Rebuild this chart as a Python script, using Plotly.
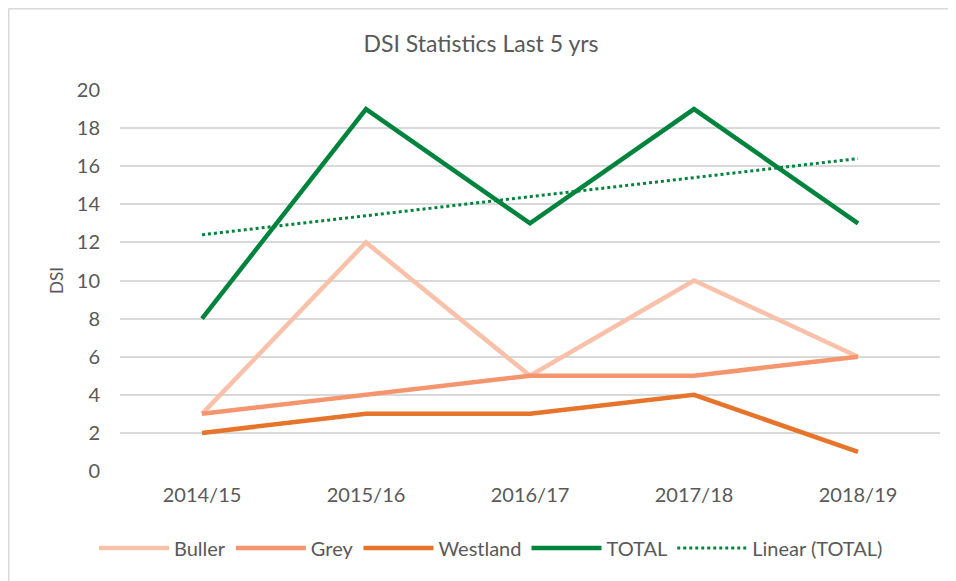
import plotly.graph_objects as go

categories = ["2014/15", "2015/16", "2016/17", "2017/18", "2018/19"]
buller = [3, 12, 5, 10, 6]
grey = [3, 4, 5, 5, 6]
westland = [2, 3, 3, 4, 1]
total = [8, 19, 13, 19, 13]
linear_total = [12.4, 13.4, 14.4, 15.4, 16.4]
y_ticks = [0, 2, 4, 6, 8, 10, 12, 14, 16, 18, 20]

FONT = "Lato"
TXT = "#595959"

fig = go.Figure()
series = [
    ("Buller", buller, "#F9C1AA", "solid", 4.5),
    ("Grey", grey, "#F5956D", "solid", 4.5),
    ("Westland", westland, "#E6742A", "solid", 4.5),
    ("TOTAL", total, "#00843D", "solid", 4.5),
    ("Linear (TOTAL)", linear_total, "#00843D", "dot", 3),
]
for name, vals, col, dash, w in series:
    fig.add_trace(go.Scatter(
        x=categories, y=vals, name=name, mode="lines",
        line=dict(color=col, width=w, dash=dash),
    ))

# page body has an 8px margin, so the figure is drawn 8px smaller and shifted
W, H = 948, 573
L, R, T, B = 112, 16, 82, 110
pw, ph = W - L - R, H - T - B

fig.update_layout(
    width=W, height=H,
    margin=dict(l=L, r=R, t=T, b=B),
    paper_bgcolor="white", plot_bgcolor="white",
    font=dict(family=FONT, color=TXT, size=20),
    title=dict(text="DSI Statistics Last 5 yrs", x=473 / W, xanchor="center",
               y=1 - 36 / H, yanchor="middle", font=dict(size=23, color=TXT, family=FONT)),
    xaxis=dict(type="category", range=[-0.5, 4.5], showgrid=False, zeroline=False,
               showline=False, ticks="", tickfont=dict(size=20, color=TXT),
               ticklabelstandoff=10),
    yaxis=dict(range=[0, 20], tickvals=y_ticks, showgrid=True, gridcolor="#D9D9D9",
               gridwidth=1.5, zeroline=False, showline=False, ticks="",
               ticklabelstandoff=19,
               title=dict(text="DSI", font=dict(size=17, color=TXT), standoff=8),
               tickfont=dict(size=20, color=TXT)),
    legend=dict(orientation="h", x=(483 - L) / pw, xanchor="center",
                y=-(540 - (T + ph)) / ph, yanchor="middle",
                font=dict(size=20, color=TXT), itemwidth=70, traceorder="normal"),
    shapes=[
        dict(type="line", xref="paper", yref="paper", x0=(0.5 - L) / pw, x1=1.05,
             y0=1 + (T - 0.5) / ph, y1=1 + (T - 0.5) / ph,
             line=dict(color="#D9D9D9", width=2)),
        dict(type="line", xref="paper", yref="paper", x0=(0.5 - L) / pw, x1=(0.5 - L) / pw,
             y0=1 + (T - 0.5) / ph, y1=-0.4, line=dict(color="#D9D9D9", width=2)),
    ],
)

fig.write_html("out.html")
